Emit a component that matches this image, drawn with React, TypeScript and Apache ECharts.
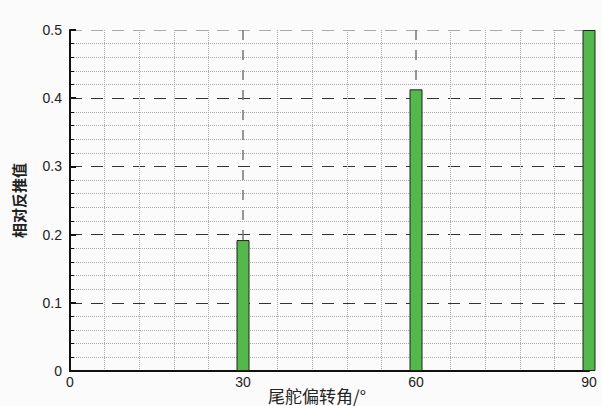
import React, { useEffect, useRef } from "react";
import * as echarts from "echarts";

const angles = [30, 60, 90];
const thrustValues = [0.192, 0.413, 0.5];
const xTicks = [0, 30, 60, 90];
const yTicks = [0, 0.1, 0.2, 0.3, 0.4, 0.5];
const xName = "尾舵偏转角/°";
const yName = "相对反推值";

export default function App() {
  const ref = useRef<HTMLDivElement>(null);
  useEffect(() => {
    document.body.style.margin = "0";
    const chart = echarts.init(ref.current!, null, { renderer: "svg" });
    const font = "Liberation Sans, Arial, sans-serif";
    chart.setOption({
      animation: false,
      backgroundColor: "#fbfbfb",
      grid: { left: 70, right: 13, top: 30, bottom: 35, containLabel: false, outerBoundsMode: "none" },
      graphic: [
        {
          type: "text",
          x: 317,
          y: 395,
          style: { text: xName, fontSize: 17, fill: "#222", fontFamily: "Noto Sans CJK SC", align: "center", verticalAlign: "middle" },
        },
      ],
      xAxis: {
        type: "value",
        min: xTicks[0],
        max: xTicks[xTicks.length - 1],
        interval: 30,
        axisLine: { show: true, lineStyle: { color: "#111", width: 2 } },
        axisTick: { show: true, inside: true, length: 5, lineStyle: { color: "#111", width: 2 } },
        axisLabel: { fontSize: 14, color: "#222", fontFamily: font, margin: 4 },
        splitLine: { show: true, lineStyle: { type: [10, 10], color: "#777", width: 1.5 } },
        minorTick: { show: false, splitNumber: 5 },
        minorSplitLine: { show: true, lineStyle: { type: [1, 1], color: "#aaa", width: 1 } },
      },
      yAxis: {
        type: "value",
        min: yTicks[0],
        max: yTicks[yTicks.length - 1],
        interval: 0.1,
        name: yName,
        nameLocation: "middle",
        nameGap: 44,
        nameRotate: 90,
        nameMoveOverlap: false,
        nameTextStyle: { fontSize: 15, fontWeight: "bold", color: "#222", fontFamily: "Noto Sans CJK SC" },
        axisLine: { show: true, lineStyle: { color: "#111", width: 2 } },
        axisTick: { show: true, inside: true, length: 6, lineStyle: { color: "#111", width: 2 } },
        minorTick: { show: true, splitNumber: 5, length: 4, lineStyle: { color: "#111", width: 1 } },
        axisLabel: { fontSize: 14, color: "#222", fontFamily: font, margin: 8, formatter: (v: number) => (v === 0 ? "0" : v.toFixed(1)) },
        splitLine: {
          show: true,
          lineStyle: { type: [12, 9], color: ["#333", "#333", "#333", "#333", "#333", "#aaa"], width: 1.2 },
        },
        minorSplitLine: { show: true, lineStyle: { type: [1, 1], color: "#aaa", width: 1 } },
      },
      series: [
        {
          type: "bar",
          data: angles.map((a, i) => [a, thrustValues[i]]),
          barWidth: 13,
          clip: false,
          itemStyle: { color: "#55b84a", borderColor: "#222", borderWidth: 1 },
        },
      ],
    });
    return () => chart.dispose();
  }, []);
  return <div ref={ref} style={{ width: 602, height: 406 }} />;
}
